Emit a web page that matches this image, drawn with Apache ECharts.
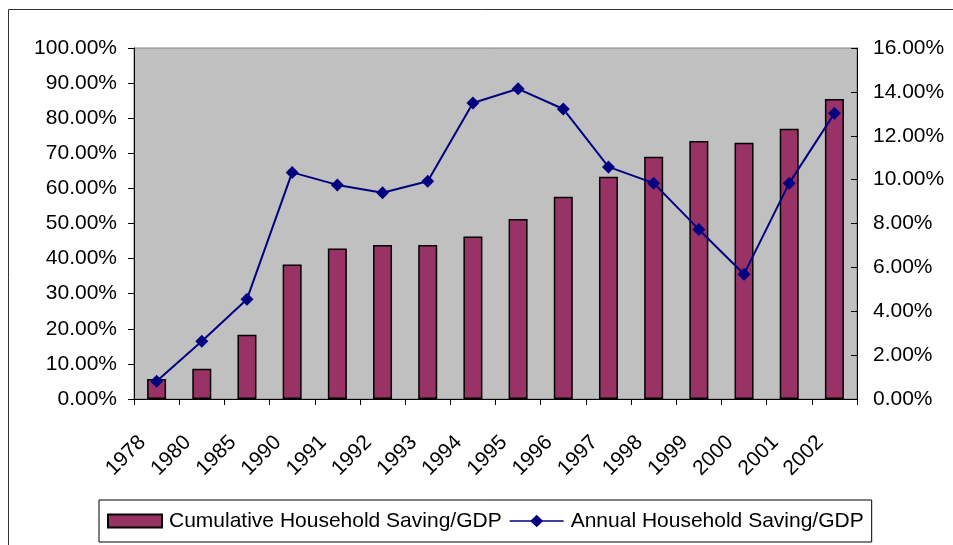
<!DOCTYPE html>
<html>
<head>
<meta charset="utf-8">
<script src="https://cdn.jsdelivr.net/npm/echarts@6/dist/echarts.min.js"></script>
<style>
  html, body { margin: 0; padding: 0; background: #fff; }
  #main { width: 953px; height: 545px; }
</style>
</head>
<body>
<div id="main"></div>
<script>
// 年份
const years = ['1978', '1980', '1985', '1990', '1991', '1992', '1993', '1994',
  '1995', '1996', '1997', '1998', '1999', '2000', '2001', '2002'];
// 累计居民储蓄/GDP (%)
const cumulative = [5.7, 8.6, 18.3, 38.3, 42.9, 43.9, 43.9, 46.3,
  51.3, 57.6, 63.3, 69.0, 73.5, 73.0, 77.0, 85.5];
// 年度居民储蓄/GDP (%)
const annual = [0.81, 2.63, 4.55, 10.33, 9.76, 9.40, 9.93, 13.49,
  14.14, 13.22, 10.58, 9.84, 7.73, 5.69, 9.84, 13.02];

const font = "'Liberation Sans', Arial, sans-serif";
const chart = echarts.init(document.getElementById('main'));

// 图例里的折线+菱形
const lineIcon = 'path://M0,5.5 L54,5.5 L54,7 L0,7 Z M27,0 L33.5,6.25 L27,12.5 L20.5,6.25 Z';

const option = {
  backgroundColor: '#fff',
  animation: false,
  textStyle: { fontFamily: font },
  graphic: [{
    type: 'rect',
    shape: { x: 8.5, y: 9.5, width: 1000, height: 600 },
    style: { fill: 'none', stroke: '#333', lineWidth: 1 },
    silent: true,
    z: -1
  }],
  grid: {
    left: 134,
    right: 96,
    top: 48,
    bottom: 146,
    show: true,
    backgroundColor: '#C0C0C0',
    borderColor: '#808080',
    borderWidth: 1
  },
  legend: {
    left: 99,
    top: 500,
    padding: [10, 8, 10, 8],
    borderColor: '#000',
    borderWidth: 1,
    itemGap: 8,
    itemWidth: 54,
    itemHeight: 13,
    textStyle: { fontFamily: font, fontSize: 21, color: '#000', padding: [0, 0, 0, 2], lineHeight: 22 },
    data: [
      { name: 'Cumulative Household Saving/GDP', icon: 'rect' },
      { name: 'Annual Household Saving/GDP', icon: lineIcon }
    ]
  },
  xAxis: {
    type: 'category',
    data: years,
    axisLine: { lineStyle: { color: '#000', width: 1 } },
    axisTick: { show: true, length: 6, lineStyle: { color: '#000' } },
    axisLabel: {
      rotate: 45,
      margin: 26,
      padding: [0, 20, 0, 0],
      color: '#000',
      fontFamily: font,
      fontSize: 21
    }
  },
  yAxis: [{
    type: 'value',
    min: 0,
    max: 100,
    interval: 10,
    axisLine: { show: true, lineStyle: { color: '#000' } },
    axisTick: { show: true, length: 6, lineStyle: { color: '#000' } },
    splitLine: { show: false },
    axisLabel: {
      margin: 17,
      color: '#000',
      fontFamily: font,
      fontSize: 21,
      formatter: v => v.toFixed(2) + '%'
    }
  }, {
    type: 'value',
    min: 0,
    max: 16,
    interval: 2,
    position: 'right',
    axisLine: { show: true, lineStyle: { color: '#000' } },
    axisTick: { show: true, inside: true, length: 6, lineStyle: { color: '#000' } },
    splitLine: { show: false },
    axisLabel: {
      margin: 16,
      color: '#000',
      fontFamily: font,
      fontSize: 21,
      formatter: v => v.toFixed(2) + '%'
    }
  }],
  series: [{
    name: 'Cumulative Household Saving/GDP',
    type: 'bar',
    yAxisIndex: 0,
    barWidth: 19,
    itemStyle: { color: '#993366', borderColor: '#000', borderWidth: 1.5 },
    data: cumulative
  }, {
    name: 'Annual Household Saving/GDP',
    type: 'line',
    yAxisIndex: 1,
    symbol: 'diamond',
    symbolSize: 13,
    lineStyle: { color: '#000080', width: 2 },
    itemStyle: { color: '#000080' },
    data: annual
  }]
};

chart.setOption(option);
</script>
</body>
</html>
